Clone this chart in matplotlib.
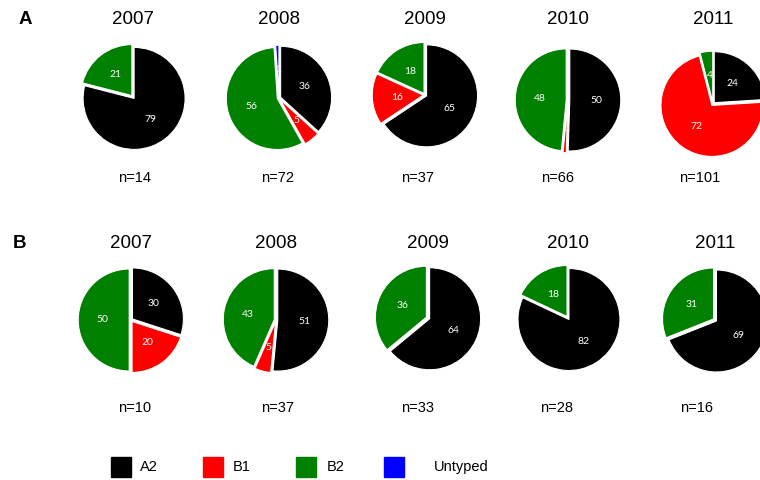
import matplotlib.pyplot as plt
from matplotlib.patches import Rectangle

plt.rcParams['font.family'] = ['Liberation Sans', 'DejaVu Sans']

years = ["2007", "2008", "2009", "2010", "2011"]
groups = ["A2", "B1", "B2", "Untyped"]
colors = ["#000000", "#ff0000", "#008000", "#0000ff"]

# percentages per year, order A2, B1, B2, Untyped
panel_a = [[79, 0, 21, 0],
           [36, 5, 56, 1],
           [65, 16, 18, 0],
           [50, 1, 48, 0],
           [24, 72, 4, 0]]
n_a = [14, 72, 37, 66, 101]

panel_b = [[30, 20, 50, 0],
           [51, 5, 43, 0],
           [64, 0, 36, 0],
           [82, 0, 18, 0],
           [69, 0, 31, 0]]
n_b = [10, 37, 33, 28, 16]

W, H = 760, 480
fig = plt.figure(figsize=(7.6, 4.8), dpi=100)

R = 51  # pie radius in px
LIM = 1.15


def px(x, y):
    return x / W, 1 - y / H


def draw_pie(cx, cy, vals):
    w = 2 * LIM * R
    ax = fig.add_axes([(cx - w / 2) / W, 1 - (cy + w / 2) / H, w / W, w / H])
    keep = [i for i, v in enumerate(vals) if v > 0]
    v = [vals[i] for i in keep]
    c = [colors[i] for i in keep]
    wedges, texts = ax.pie(v, colors=c, startangle=90, counterclock=False,
                           explode=[0.035] * len(v), labels=[str(x) for x in v],
                           labeldistance=0.52,
                           wedgeprops=dict(edgecolor="white", linewidth=0.8),
                           textprops=dict(color="white", fontsize=7.5,
                                          family=["Lato", "DejaVu Sans"]))
    for t in texts:
        t.set_ha("center")
        t.set_va("center")
    ax.set_xlim(-LIM, LIM)
    ax.set_ylim(-LIM, LIM)
    ax.set_aspect("equal")
    ax.axis("off")


rows = [
    (panel_a, n_a, [(133, 97), (279, 98), (425, 95), (568, 100), (713, 104)],
     20, 178, [135, 278, 418, 558, 700]),
    (panel_b, n_b, [(131, 320), (276, 320), (428, 318), (568, 318), (715, 320)],
     243, 408, [135, 278, 418, 557, 697]),
]

for data, ns, centers, ty, ny, nx in rows:
    for i, yr in enumerate(years):
        cx, cy = centers[i]
        draw_pie(cx, cy, data[i])
        fig.text(*px(cx, ty), yr, ha="center", va="center", fontsize=13.5)
        fig.text(*px(nx[i], ny), f"n={ns[i]}", ha="center", va="center",
                 fontsize=10.5)

fig.text(*px(25, 20), "A", ha="center", va="center", fontsize=13.5,
         fontweight="bold")
fig.text(*px(19, 243), "B", ha="center", va="center", fontsize=13.5,
         fontweight="bold")

# legend
sq_x = [111, 203, 296, 384]
lab_x = [140, 233, 327, 434]
for g, col, sx, lx in zip(groups, colors, sq_x, lab_x):
    x0, y0 = px(sx, 477)
    fig.add_artist(Rectangle((x0, y0), 20 / W, 20 / H, color=col,
                             transform=fig.transFigure))
    fig.text(*px(lx, 467), g, ha="left", va="center", fontsize=10.5)

fig.savefig("out.png", dpi=100)
